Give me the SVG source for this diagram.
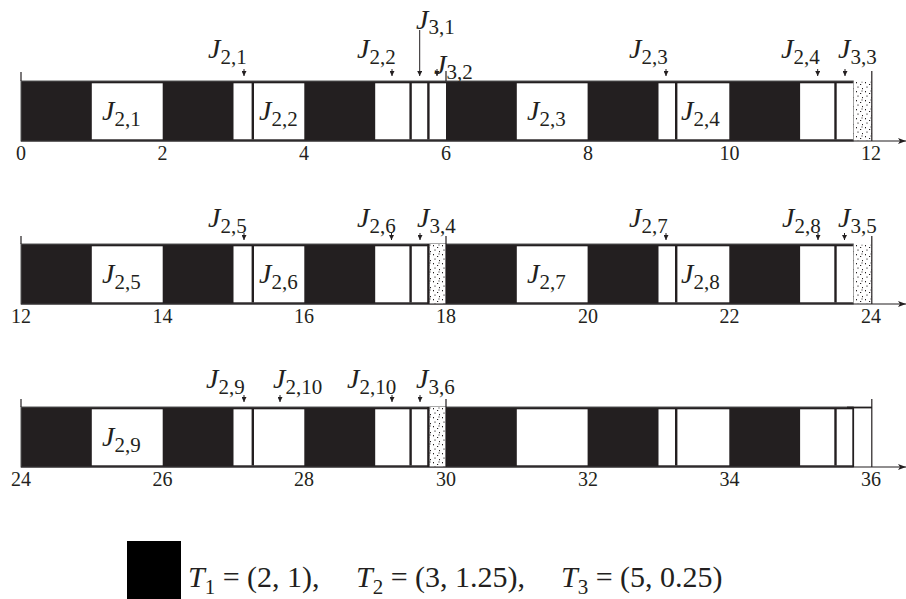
<svg xmlns="http://www.w3.org/2000/svg" width="906" height="599" viewBox="0 0 906 599">
<defs>
<style>
.bar{fill:#231f20;stroke:#555;stroke-width:1}
.w{fill:#fff}
.dv{stroke:#231f20;stroke-width:2.4}
.dots{fill:url(#dots)}
.tk{stroke:#231f20;stroke-width:1.2;fill:none}
.axis{stroke:#231f20;stroke-width:1.2;marker-end:url(#ah)}
.arr{stroke:#231f20;stroke-width:1;marker-end:url(#ar)}
text{font-family:'Liberation Serif','Times New Roman',serif;fill:#231f20}
.lbl{font-size:28px}
.j{font-style:italic}
.sub{font-size:21px}
.num{font-size:20px;text-anchor:middle}
.leg{font-size:30px}
.lsub{font-size:21px}
</style>
<pattern id="dots" patternUnits="userSpaceOnUse" width="9" height="9">
<rect width="9" height="9" fill="#fff"/>
<rect x="1" y="1" width="1" height="1.3" fill="#231f20"/>
<rect x="5" y="3" width="1.2" height="1" fill="#231f20"/>
<rect x="2.5" y="5.5" width="1" height="1.2" fill="#231f20"/>
<rect x="7" y="7" width="1" height="1.2" fill="#231f20"/>
<rect x="6.5" y="0.5" width="1" height="1" fill="#231f20"/>
</pattern>
<marker id="ar" viewBox="0 0 4 4" refX="4" refY="2" markerWidth="5" markerHeight="5" markerUnits="userSpaceOnUse" orient="auto">
<path d="M0,0 L4,2 L0,4 z" fill="#231f20"/>
</marker>
<marker id="ah" viewBox="0 0 8 6" refX="8" refY="3" markerWidth="8" markerHeight="6" markerUnits="userSpaceOnUse" orient="auto">
<path d="M0,0 L8,3 L0,6 L2,3 z" fill="#231f20"/>
</marker>
</defs>
<rect width="906" height="599" fill="#fff"/>

<!-- Row 1: 0..12 -->
<g id="row1">
<rect class="bar" x="21" y="81" width="832.25" height="60"/>
<rect class="w" x="91.8" y="83.3" width="70.9" height="56"/>
<rect class="w" x="233.5" y="83.3" width="70.8" height="56"/>
<rect class="w" x="375.2" y="83.3" width="70.8" height="56"/>
<rect class="w" x="516.8" y="83.3" width="70.8" height="56"/>
<rect class="w" x="658.5" y="83.3" width="70.8" height="56"/>
<rect class="w" x="800.1" y="83.3" width="53.1" height="56"/>
<line class="dv" x1="252.8" y1="83" x2="252.8" y2="139.5"/>
<line class="dv" x1="410.6" y1="83" x2="410.6" y2="139.5"/>
<line class="dv" x1="428.4" y1="83" x2="428.4" y2="139.5"/>
<line class="dv" x1="676.2" y1="83" x2="676.2" y2="139.5"/>
<line class="dv" x1="835.5" y1="83" x2="835.5" y2="139.5"/>
<rect class="dots" x="853.8" y="81.5" width="17.7" height="59"/>
<line class="tk" x1="21" y1="72" x2="21" y2="81"/>
<line class="tk" x1="446" y1="71" x2="446" y2="81"/>
<line class="tk" x1="871.8" y1="71" x2="871.8" y2="141"/>
<line class="axis" x1="21" y1="141" x2="906" y2="141"/>
<g class="num">
<text x="21" y="160">0</text><text x="162.5" y="160">2</text><text x="304" y="160">4</text><text x="446" y="160">6</text><text x="588" y="160">8</text><text x="729.5" y="160">10</text><text x="871" y="160">12</text>
</g>
</g>

<!-- Row 2: 12..24 -->
<g id="row2" transform="translate(0,163)">
<rect class="bar" x="21" y="81" width="832.25" height="60"/>
<rect class="w" x="91.8" y="83.3" width="70.9" height="56"/>
<rect class="w" x="233.5" y="83.3" width="70.8" height="56"/>
<rect class="w" x="375.2" y="83.3" width="53.1" height="56"/>
<rect class="w" x="516.8" y="83.3" width="70.8" height="56"/>
<rect class="w" x="658.5" y="83.3" width="70.8" height="56"/>
<rect class="w" x="800.1" y="83.3" width="53.1" height="56"/>
<line class="dv" x1="252.8" y1="83" x2="252.8" y2="139.5"/>
<line class="dv" x1="410.6" y1="83" x2="410.6" y2="139.5"/>
<line class="dv" x1="428.4" y1="81" x2="428.4" y2="141"/>
<line class="dv" x1="676.2" y1="83" x2="676.2" y2="139.5"/>
<line class="dv" x1="835.5" y1="83" x2="835.5" y2="139.5"/>
<rect class="dots" x="429.6" y="81" width="16.4" height="60"/>
<rect class="dots" x="853.8" y="81.5" width="17.7" height="59"/>
<line class="tk" x1="21" y1="73" x2="21" y2="81"/>
<line class="tk" x1="446" y1="73" x2="446" y2="141"/>
<line class="tk" x1="871.8" y1="73" x2="871.8" y2="141"/>
<line class="axis" x1="21" y1="141" x2="906" y2="141"/>
<g class="num">
<text x="21" y="160">12</text><text x="162.5" y="160">14</text><text x="304" y="160">16</text><text x="446" y="160">18</text><text x="588" y="160">20</text><text x="729.5" y="160">22</text><text x="871" y="160">24</text>
</g>
</g>

<!-- Row 3: 24..36 -->
<g id="row3" transform="translate(0,326)">
<rect class="bar" x="21" y="81" width="832.25" height="60"/>
<rect class="w" x="91.8" y="83.3" width="70.9" height="56"/>
<rect class="w" x="233.5" y="83.3" width="70.8" height="56"/>
<rect class="w" x="375.2" y="83.3" width="53.1" height="56"/>
<rect class="w" x="516.8" y="83.3" width="70.8" height="56"/>
<rect class="w" x="658.5" y="83.3" width="70.8" height="56"/>
<rect class="w" x="800.1" y="83.3" width="53.1" height="56"/>
<line class="dv" x1="252.8" y1="83" x2="252.8" y2="139.5"/>
<line class="dv" x1="410.6" y1="83" x2="410.6" y2="139.5"/>
<line class="dv" x1="428.4" y1="81" x2="428.4" y2="141"/>
<line class="dv" x1="676.2" y1="83" x2="676.2" y2="139.5"/>
<line class="dv" x1="835.5" y1="83" x2="835.5" y2="139.5"/>
<rect class="dots" x="429.6" y="81" width="16.4" height="60"/>
<line class="dv" x1="853.2" y1="81" x2="853.2" y2="141" style="stroke-width:1.8"/>
<line class="tk" x1="847" y1="81.5" x2="872" y2="81.5" style="stroke-width:1.8"/>
<line class="tk" x1="21" y1="73" x2="21" y2="81"/>
<line class="tk" x1="446" y1="73" x2="446" y2="141"/>
<line class="tk" x1="871.8" y1="73" x2="871.8" y2="141"/>
<line class="axis" x1="21" y1="141" x2="906" y2="141"/>
<g class="num">
<text x="21" y="160">24</text><text x="162.5" y="160">26</text><text x="304" y="160">28</text><text x="446" y="160">30</text><text x="588" y="160">32</text><text x="729.5" y="160">34</text><text x="871" y="160">36</text>
</g>
</g>

<!-- Job labels inside boxes -->
<g id="box-labels" class="lbl">
<text x="102" y="120"><tspan class="j">J</tspan><tspan class="sub" dy="6">2,1</tspan></text>
<text x="259" y="120"><tspan class="j">J</tspan><tspan class="sub" dy="6">2,2</tspan></text>
<text x="527" y="120"><tspan class="j">J</tspan><tspan class="sub" dy="6">2,3</tspan></text>
<text x="681" y="120"><tspan class="j">J</tspan><tspan class="sub" dy="6">2,4</tspan></text>
<text x="102" y="283"><tspan class="j">J</tspan><tspan class="sub" dy="6">2,5</tspan></text>
<text x="259" y="283"><tspan class="j">J</tspan><tspan class="sub" dy="6">2,6</tspan></text>
<text x="527" y="283"><tspan class="j">J</tspan><tspan class="sub" dy="6">2,7</tspan></text>
<text x="681" y="283"><tspan class="j">J</tspan><tspan class="sub" dy="6">2,8</tspan></text>
<text x="102" y="446"><tspan class="j">J</tspan><tspan class="sub" dy="6">2,9</tspan></text>
</g>

<!-- Release labels -->
<g id="release-labels" class="lbl">
<text x="208" y="58"><tspan class="j">J</tspan><tspan class="sub" dy="6">2,1</tspan></text>
<text x="357" y="58"><tspan class="j">J</tspan><tspan class="sub" dy="6">2,2</tspan></text>
<text x="416" y="29"><tspan class="j">J</tspan><tspan class="sub" dy="5">3,1</tspan></text>
<text x="434" y="74"><tspan class="j">J</tspan><tspan class="sub" dy="5">3,2</tspan></text>
<text x="629" y="58"><tspan class="j">J</tspan><tspan class="sub" dy="6">2,3</tspan></text>
<text x="781" y="58"><tspan class="j">J</tspan><tspan class="sub" dy="6">2,4</tspan></text>
<text x="838" y="58"><tspan class="j">J</tspan><tspan class="sub" dy="6">3,3</tspan></text>
<text x="208" y="227"><tspan class="j">J</tspan><tspan class="sub" dy="6">2,5</tspan></text>
<text x="357" y="227"><tspan class="j">J</tspan><tspan class="sub" dy="6">2,6</tspan></text>
<text x="417" y="227"><tspan class="j">J</tspan><tspan class="sub" dy="6">3,4</tspan></text>
<text x="629" y="227"><tspan class="j">J</tspan><tspan class="sub" dy="6">2,7</tspan></text>
<text x="782" y="227"><tspan class="j">J</tspan><tspan class="sub" dy="6">2,8</tspan></text>
<text x="838" y="227"><tspan class="j">J</tspan><tspan class="sub" dy="6">3,5</tspan></text>
<text x="206" y="388"><tspan class="j">J</tspan><tspan class="sub" dy="6">2,9</tspan></text>
<text x="273" y="388"><tspan class="j">J</tspan><tspan class="sub" dy="6">2,10</tspan></text>
<text x="347" y="388"><tspan class="j">J</tspan><tspan class="sub" dy="6">2,10</tspan></text>
<text x="416" y="388"><tspan class="j">J</tspan><tspan class="sub" dy="6">3,6</tspan></text>
</g>

<!-- Connectors: release arrows -->
<g id="connectors">
<line class="arr" x1="244" y1="69" x2="244" y2="76"/>
<line class="arr" x1="392" y1="69" x2="392" y2="76"/>
<line class="arr" x1="419.7" y1="30" x2="419.7" y2="76"/>
<line class="arr" x1="437" y1="69" x2="437" y2="76"/>
<line class="arr" x1="666" y1="69" x2="666" y2="76"/>
<line class="arr" x1="817.7" y1="69" x2="817.7" y2="76"/>
<line class="arr" x1="845" y1="69" x2="845" y2="76"/>
<line class="arr" x1="244" y1="233" x2="244" y2="240"/>
<line class="arr" x1="391.5" y1="233" x2="391.5" y2="240"/>
<line class="arr" x1="420" y1="233" x2="420" y2="240"/>
<line class="arr" x1="666" y1="233" x2="666" y2="240"/>
<line class="arr" x1="818" y1="233" x2="818" y2="240"/>
<line class="arr" x1="844.5" y1="233" x2="844.5" y2="240"/>
<line class="arr" x1="244" y1="395" x2="244" y2="402"/>
<line class="arr" x1="280" y1="395" x2="280" y2="402"/>
<line class="arr" x1="392" y1="395" x2="392" y2="402"/>
<line class="arr" x1="420" y1="395" x2="420" y2="402"/>
</g>

<!-- Legend -->
<g id="legend">
<rect x="127" y="541" width="54" height="58" fill="#000"/>
<text class="leg" x="188" y="587"><tspan class="j">T</tspan><tspan class="lsub" dy="7">1</tspan><tspan dy="-7"> = (2, 1),</tspan></text>
<text class="leg" x="356" y="587"><tspan class="j">T</tspan><tspan class="lsub" dy="7">2</tspan><tspan dy="-7"> = (3, 1.25),</tspan></text>
<text class="leg" x="561" y="587"><tspan class="j">T</tspan><tspan class="lsub" dy="7">3</tspan><tspan dy="-7"> = (5, 0.25)</tspan></text>
</g>
</svg>
